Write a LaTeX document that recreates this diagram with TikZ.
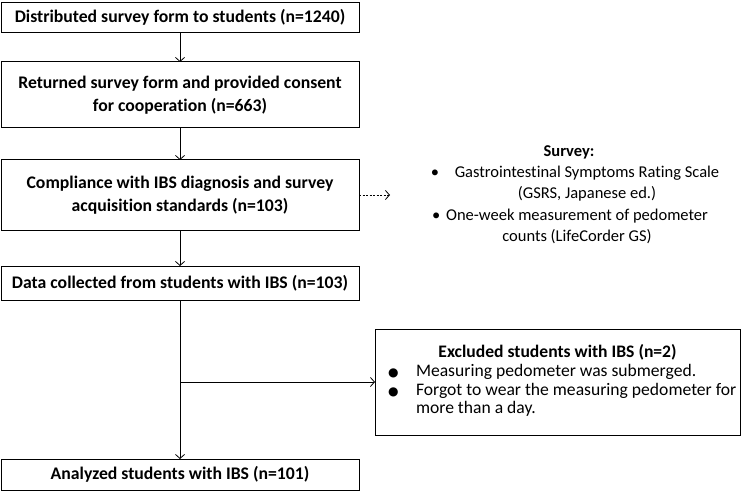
\documentclass[tikz,border=0pt]{standalone}
\usepackage{fontspec}
\setmainfont{Carlito}[Ligatures=NoCommon]
\newfontfamily\dejavu{DejaVu Sans}
\usetikzlibrary{arrows.meta}
\begin{document}
\begin{tikzpicture}[x=1pt,y=-1pt,
  every node/.style={inner sep=0pt,outer sep=0pt},
  flowbox/.style={draw,line width=1pt,minimum width=358pt,align=center,font=\fontsize{17.7}{23}\selectfont\bfseries},
  arr/.style={line width=0.8pt,-{Straight Barb[length=4pt,width=9pt]}},
  dasharr/.style={line width=0.8pt,dash pattern=on 2pt off 1.5pt,-{Straight Barb[length=4pt,width=9pt]}}]
\useasboundingbox (0,0) rectangle (750,492);
\node[flowbox,minimum height=30pt] (b1) at (180,17.5) {Distributed survey form to students (n=1240)};
\node[flowbox,minimum height=66pt] (b2) at (180,95) {Returned survey form and provided consent\\for cooperation (n=663)};
\node[flowbox,minimum height=70pt] (b3) at (180,195) {Compliance with IBS diagnosis and survey\\acquisition standards (n=103)};
\node[flowbox,minimum height=34pt] (b4) at (180,283) {Data collected from students with IBS (n=103)};
\node[flowbox,minimum height=31pt] (b5) at (180,474.5) {Analyzed students with IBS (n=101)};
\node[align=center,font=\fontsize{16.5}{21.3}\selectfont] (sv) at (569,194.5) {\textbf{Survey:}\\
\hspace*{36pt}\llap{•\hspace{0.95em}}Gastrointestinal Symptoms Rating Scale\\
\hspace*{36pt}(GSRS, Japanese ed.)\\
\hspace*{16pt}\llap{•\hspace{0.35em}}One-week measurement of pedometer\\
\hspace*{16pt}counts (LifeCorder GS)};
\node[draw,line width=1pt,minimum width=365pt,minimum height=106pt,font=\fontsize{17.6}{18.7}\selectfont] (ex) at (557.5,382) {%
\begin{tabular}{@{}p{40pt}@{}p{323pt}@{}}
\multicolumn{2}{@{}c@{}}{\textbf{Excluded students with IBS (n=2)}}\\
\hspace*{12pt}{\dejavu\fontsize{12}{12}\selectfont ●} & Measuring pedometer was submerged.\\
\hspace*{12pt}{\dejavu\fontsize{12}{12}\selectfont ●} & Forgot to wear the measuring pedometer for\newline more than a day.
\end{tabular}};
\coordinate (dend) at (390,195);
\coordinate (br) at (b4.south |- ex.west);
\draw[arr] (b1) -- (b2);
\draw[arr] (b2) -- (b3);
\draw[arr] (b3) -- (b4);
\draw[arr] (b4) -- (b5);
\draw[arr] (br) -- (ex.west);
\draw[dasharr] (b3.east) -- (dend);
\end{tikzpicture}
\end{document}
